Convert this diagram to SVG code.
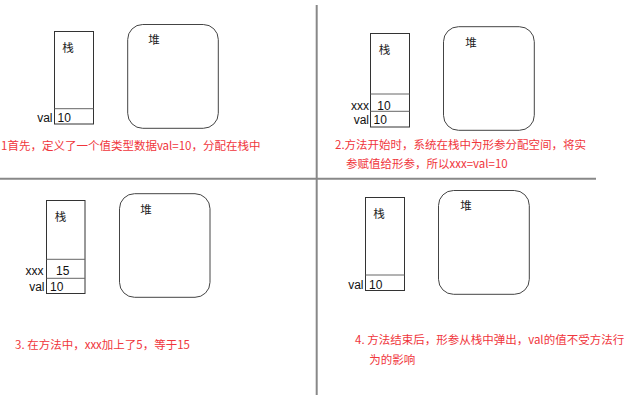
<svg xmlns="http://www.w3.org/2000/svg" width="640" height="402" viewBox="0 0 640 402">
<style>
text{font-family:"Noto Sans CJK SC","Liberation Sans",sans-serif;}
.lbl{font-size:11.5px;fill:#222;}
.val{font-family:"Liberation Sans","Noto Sans CJK SC",sans-serif;font-size:12px;fill:#111;}
.note{font-size:11.5px;fill:#f0363c;}
.stack{fill:none;stroke:#333;stroke-width:1;}
.div{stroke:#666;stroke-width:1;}
.heap{fill:none;stroke:#444;stroke-width:1;}
.sep{stroke:#888;stroke-width:2;}
</style>
<rect width="640" height="402" fill="#fff"/>
<g id="separators">
<line class="sep" x1="0" y1="178.7" x2="596" y2="178.7"/>
<line class="sep" x1="316.7" y1="5" x2="316.7" y2="395"/>
</g>
<g id="panel1">
<g id="stack1">
<rect class="stack" x="54.5" y="31.5" width="39" height="92.5"/>
<line class="div" x1="54.5" y1="108.7" x2="93.5" y2="108.7"/>
<text class="lbl" x="68" y="51.5" text-anchor="middle">栈</text>
<text class="val" x="52.5" y="121.8" text-anchor="end">val</text>
<text class="val" x="57.5" y="121.8">10</text>
</g>
<g id="heap1">
<rect class="heap" x="127.7" y="24.5" width="90.6" height="103.8" rx="15"/>
<text class="lbl" x="154" y="44" text-anchor="middle">堆</text>
</g>
<text class="note" x="1" y="150">1首先，定义了一个值类型数据val=10，分配在栈中</text>
</g>
<g id="panel2">
<g id="stack2">
<rect class="stack" x="370.5" y="33.5" width="39" height="93.5"/>
<line class="div" x1="370.5" y1="94" x2="409.5" y2="94"/>
<line class="div" x1="370.5" y1="111.3" x2="409.5" y2="111.3"/>
<text class="lbl" x="384.5" y="54" text-anchor="middle">栈</text>
<text class="val" x="369" y="109.8" text-anchor="end">xxx</text>
<text class="val" x="377.3" y="109.8">10</text>
<text class="val" x="369" y="124.3" text-anchor="end">val</text>
<text class="val" x="373.5" y="124.3">10</text>
</g>
<g id="heap2">
<rect class="heap" x="443.5" y="26.7" width="90.8" height="103.6" rx="15"/>
<text class="lbl" x="471" y="46.5" text-anchor="middle">堆</text>
</g>
<text class="note" x="335" y="148.5">2.方法开始时，系统在栈中为形参分配空间，将实</text>
<text class="note" x="346" y="167.5">参赋值给形参，所以xxx=val=10</text>
</g>
<g id="panel3">
<g id="stack3">
<rect class="stack" x="46.5" y="200.5" width="38.5" height="93"/>
<line class="div" x1="46.5" y1="259.3" x2="85" y2="259.3"/>
<line class="div" x1="46.5" y1="278.3" x2="85" y2="278.3"/>
<text class="lbl" x="60.5" y="221" text-anchor="middle">栈</text>
<text class="val" x="43.5" y="275.2" text-anchor="end">xxx</text>
<text class="val" x="56" y="275.2">15</text>
<text class="val" x="44.5" y="291" text-anchor="end">val</text>
<text class="val" x="50" y="291">10</text>
</g>
<g id="heap3">
<rect class="heap" x="119.5" y="193.7" width="90.5" height="103.6" rx="15"/>
<text class="lbl" x="146" y="213.5" text-anchor="middle">堆</text>
</g>
<text class="note" x="15" y="348.5">3. 在方法中，xxx加上了5，等于15</text>
</g>
<g id="panel4">
<g id="stack4">
<rect class="stack" x="365.5" y="197.5" width="39" height="93"/>
<line class="div" x1="365.5" y1="275" x2="404.5" y2="275"/>
<text class="lbl" x="379" y="217.5" text-anchor="middle">栈</text>
<text class="val" x="363.5" y="288.5" text-anchor="end">val</text>
<text class="val" x="369" y="288.5">10</text>
</g>
<g id="heap4">
<rect class="heap" x="438.5" y="190.5" width="90.8" height="103.8" rx="15"/>
<text class="lbl" x="466" y="210" text-anchor="middle">堆</text>
</g>
<text class="note" x="355" y="344">4. 方法结束后，形参从栈中弹出，val的值不受方法行</text>
<text class="note" x="369.3" y="363.5">为的影响</text>
</g>
</svg>
